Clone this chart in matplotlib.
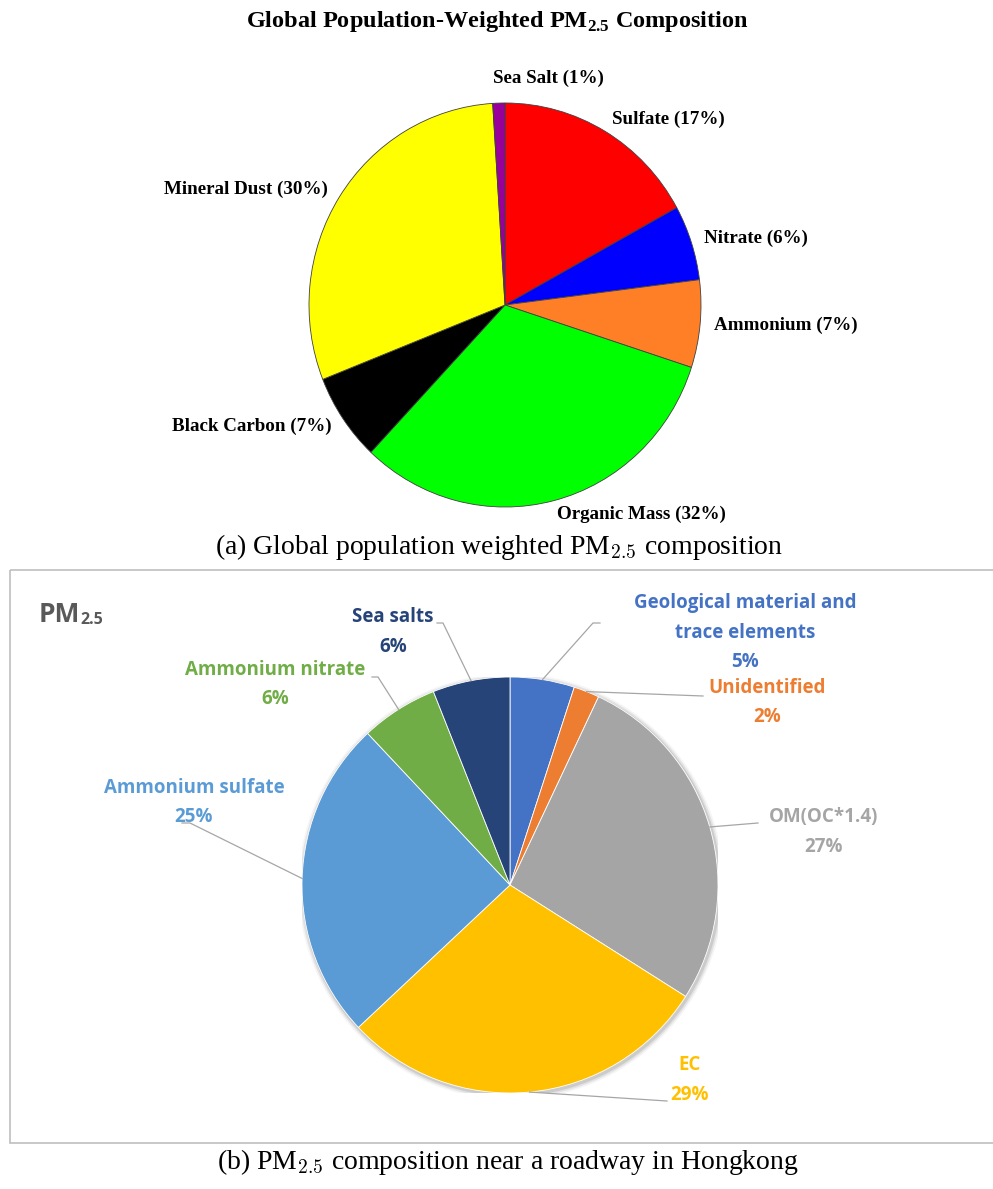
import matplotlib.pyplot as plt
import matplotlib.patches as mpatches
import numpy as np

W, H = 993, 1189

###########################################################################
# data

# (a) global population weighted composition, clockwise from 12 o'clock
glob_names = ['Sulfate', 'Nitrate', 'Ammonium', 'Organic Mass',
              'Black Carbon', 'Mineral Dust', 'Sea Salt']
glob_pct = [17, 6, 7, 32, 7, 30, 1]
glob_colors = ['#FF0000', '#0000FF', '#FF7F27', '#00FF00',
               '#000000', '#FFFF00', '#990099']

# (b) roadway in Hongkong, clockwise from 12 o'clock
hk_names = ['Geological material and\ntrace elements', 'Unidentified',
            'OM(OC*1.4)', 'EC', 'Ammonium sulfate', 'Ammonium nitrate',
            'Sea salts']
hk_pct = [5, 2, 27, 29, 25, 6, 6]
hk_colors = ['#4472C4', '#ED7D31', '#A5A5A5', '#FFC000',
             '#5B9BD5', '#70AD47', '#264478']

###########################################################################
# layout (pixels)

# label centre x, y of first line, line step
hk_label_pos = [(745, 603), (767, 688), (824, 817), (690, 1065),
                (194, 788), (275, 670), (393, 617)]
hk_line_step = 29.5
# leader start points (label side), pie end is computed
hk_leader_start = [[(600, 623), (593, 623)],
                   [(703, 696)],
                   [(758, 823)],
                   [(667, 1101)],
                   [(182, 823), (190, 823)],
                   [(372, 677), (378, 677)],
                   [(437, 623), (443, 623)]]

plt.rcParams['mathtext.fontset'] = 'custom'
plt.rcParams['mathtext.rm'] = 'Liberation Serif'
plt.rcParams['mathtext.bf'] = 'Liberation Serif:bold'

fig = plt.figure(figsize=(W / 100, H / 100), dpi=100)


def rect(cx, cy, w, h):
    return [(cx - w / 2) / W, 1 - (cy + h / 2) / H, w / W, h / H]


# overlay axes in pixel coordinates for box, leaders, captions
ov = fig.add_axes([0, 0, 1, 1], zorder=5)
ov.set_xlim(0, W)
ov.set_ylim(H, 0)
ov.axis('off')
ov.patch.set_visible(False)

# ----- (a) top pie
ax = fig.add_axes(rect(505, 305, 392, 404))
labels_a = ['%s (%d%%)' % (n, p) for n, p in zip(glob_names, glob_pct)]
wedges, texts = ax.pie(glob_pct, colors=glob_colors, labels=labels_a,
                       startangle=90, counterclock=False, labeldistance=1.07,
                       wedgeprops=dict(edgecolor='#404040', linewidth=0.6),
                       textprops=dict(family='Liberation Serif',
                                      weight='bold', fontsize=13.7))
# sea salt label sits centred above the pie
texts[-1].set_position((0.22, 1.12))
texts[-1].set_horizontalalignment('center')
ax.set_aspect('auto')
ax.set_xlim(-1, 1)
ax.set_ylim(-1, 1)

ov.text(497, 22, r'Global Population-Weighted PM$_{\mathbf{2.5}}$ Composition',
        ha='center', va='center', family='Liberation Serif', weight='bold',
        fontsize=17.5, math_fontfamily='custom')

ov.text(499, 547, r'(a) Global population weighted PM$_{2.5}$ composition',
        ha='center', va='center', family='Liberation Serif', fontsize=20,
        math_fontfamily='cm')

# ----- (b) bottom pie
ov.add_patch(mpatches.Rectangle((10, 570), 1000, 573, facecolor='none',
                                edgecolor='#BFBFBF', linewidth=1.2))

ax2 = fig.add_axes(rect(510, 885, 416, 416))
# soft shadow
for k, a in enumerate([0.10, 0.07, 0.04]):
    ax2.add_patch(mpatches.Circle((0.006, -0.008), 1.0 + 0.008 * (k + 1),
                                  facecolor='#000000', alpha=a,
                                  edgecolor='none', zorder=0))
wedges2, _ = ax2.pie(hk_pct, colors=hk_colors, startangle=90,
                     counterclock=False, radius=1.0,
                     wedgeprops=dict(edgecolor='white', linewidth=0.6))
ax2.set_aspect('auto')
ax2.set_xlim(-1, 1)
ax2.set_ylim(-1, 1)

lab_font = dict(family='Open Sans', weight='bold', fontsize=13.5)

to_ov = ov.transData.inverted()
for i, name in enumerate(hk_names):
    w = wedges2[i]
    mid = np.deg2rad((w.theta1 + w.theta2) / 2)
    edge = to_ov.transform(ax2.transData.transform((np.cos(mid), np.sin(mid))))
    pts = hk_leader_start[i] + [tuple(edge)]
    xs = [p[0] for p in pts]
    ys = [p[1] for p in pts]
    ov.plot(xs, ys, color='#A6A6A6', lw=0.9, zorder=1)

    lx, ly = hk_label_pos[i]
    lines = name.split('\n') + ['%d%%' % hk_pct[i]]
    for j, line in enumerate(lines):
        ov.text(lx, ly + j * hk_line_step, line, ha='center', va='center',
                color=hk_colors[i], **lab_font)

pm = ov.text(39, 622, 'PM', ha='left', va='baseline', family='Open Sans',
             weight='bold', fontsize=19, color='#595959')
ov.annotate('2.5', xy=(1.0, 0.0), xycoords=pm, ha='left', va='bottom',
            family='Open Sans', weight='bold', fontsize=11.5,
            color='#595959')

ov.text(508, 1162, r'(b) PM$_{2.5}$ composition near a roadway in Hongkong',
        ha='center', va='center', family='Liberation Serif', fontsize=20,
        math_fontfamily='cm')

fig.savefig('out.png', dpi=100)
